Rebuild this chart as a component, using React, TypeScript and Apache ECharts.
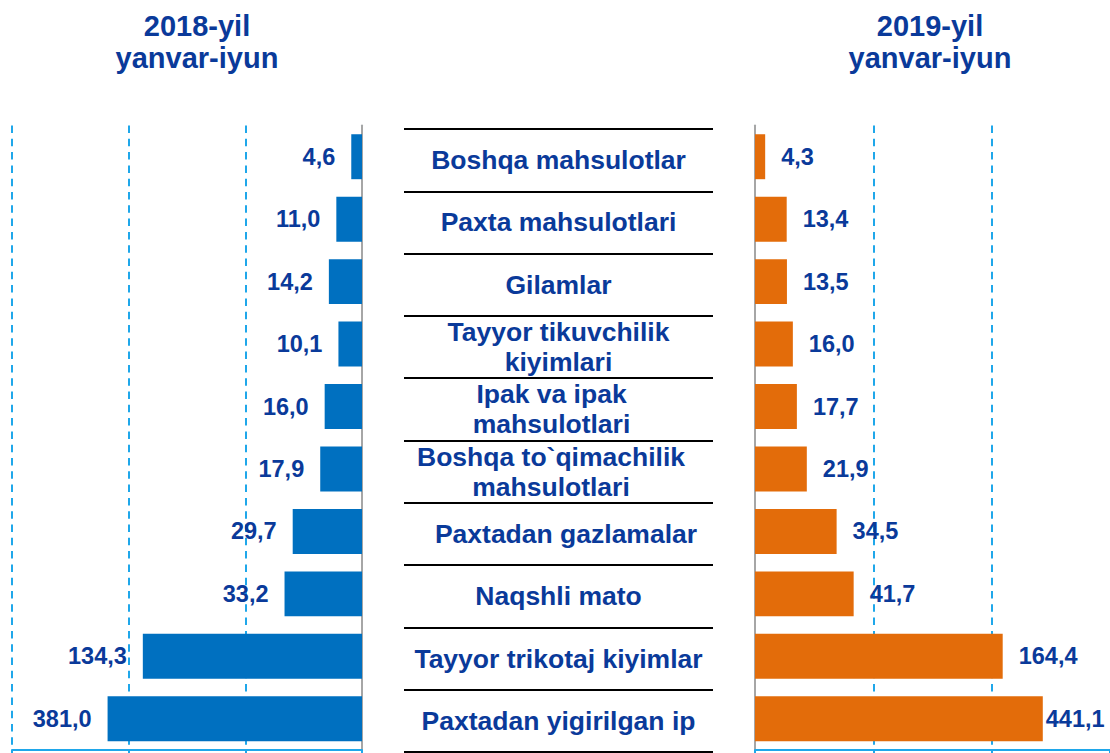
import React, { useEffect, useRef } from "react";
import * as echarts from "echarts";

const categories = [
  "Boshqa mahsulotlar",
  "Paxta mahsulotlari",
  "Gilamlar",
  "Tayyor tikuvchilik\nkiyimlari",
  "Ipak va ipak\nmahsulotlari",
  "Boshqa to`qimachilik\nmahsulotlari",
  "Paxtadan gazlamalar",
  "Naqshli mato",
  "Tayyor trikotaj kiyimlar",
  "Paxtadan yigirilgan ip",
];
const values2018 = [4.6, 11.0, 14.2, 10.1, 16.0, 17.9, 29.7, 33.2, 134.3, 381.0];
const values2019 = [4.3, 13.4, 13.5, 16.0, 17.7, 21.9, 34.5, 41.7, 164.4, 441.1];
const titles = ["2018-yil\nyanvar-iyun", "2019-yil\nyanvar-iyun"];
// gridline axis: min, max, interval
const gridMin = 0;
const gridMax = 150;
const gridInterval = 50;
// compressed (broken) ranges of the bar axes, as in the source picture
const break2018 = { start: 91.3, end: 400, gap: 18.9 };
const break2019 = { start: 100.8, end: 460, gap: 22 };
const barMax2018 = 439.8;
const barMax2019 = 487.25;

const FONT = "'Liberation Sans', Arial, sans-serif";
const TEXT = "#0a3a9a";
const GRIDBLUE = "#1fa7ea";

const fmt = (v: number) => v.toFixed(1).replace(".", ",");

// small horizontal nudges of some category labels, as in the source
const labelPadding: Record<number, number[]> = {
  4: [0, 14, 0, 0],
  5: [0, 15, 0, 0],
  6: [0, 0, 0, 15],
};

export default function App() {
  const ref = useRef<HTMLDivElement>(null);
  useEffect(() => {
    const chart = echarts.init(ref.current!, null, { renderer: "svg" });
    const gridAxis = (gridIndex: number, inverse: boolean, showMax: boolean) => ({
      type: "value",
      gridIndex,
      min: gridMin,
      max: gridMax,
      interval: gridInterval,
      inverse,
      position: "bottom",
      axisLine: { show: true, lineStyle: { color: GRIDBLUE, width: 2 } },
      axisTick: { show: true, length: 4, lineStyle: { color: GRIDBLUE, width: 2 } },
      axisLabel: { show: false },
      splitLine: {
        show: true,
        showMaxLine: showMax,
        lineStyle: { color: GRIDBLUE, width: 2, type: [7.5, 5.8] },
      },
    });
    const barAxis = (gridIndex: number, inverse: boolean, max: number, brk: any) => ({
      type: "value",
      gridIndex,
      min: 0,
      max,
      inverse,
      show: false,
      breaks: [brk],
      breakArea: { show: false },
      splitLine: { show: false },
    });
    const labelStyle = {
      show: true,
      distance: 16,
      fontSize: 23.5,
      fontWeight: "bold",
      fontFamily: FONT,
      color: TEXT,
      formatter: (p: any) => fmt(p.value),
    };
    const catLabel = {
      align: "center",
      verticalAlign: "middle",
      fontSize: 26.5,
      lineHeight: 30,
      fontWeight: "bold",
      fontFamily: FONT,
      color: TEXT,
    };
    const option: any = {
      animation: false,
      backgroundColor: "#ffffff",
      grid: [
        { left: 12, width: 350, top: 125.5, height: 624.5 },
        { left: 404, width: 309, top: 129, height: 623 },
        { left: 755, width: 355, top: 125.5, height: 624.5 },
      ],
      xAxis: [
        gridAxis(0, true, true),
        barAxis(0, true, barMax2018, break2018),
        { type: "value", gridIndex: 1, show: false },
        gridAxis(2, false, false),
        barAxis(2, false, barMax2019, break2019),
      ],
      yAxis: [
        {
          type: "category",
          gridIndex: 0,
          data: categories,
          inverse: true,
          position: "right",
          axisLine: { show: true, lineStyle: { color: "#a6a6a6", width: 2 } },
          axisTick: { show: false },
          axisLabel: { show: false },
          splitLine: { show: false },
        },
        {
          type: "category",
          gridIndex: 1,
          data: categories.map((c, i) =>
            labelPadding[i]
              ? { value: c, textStyle: { ...catLabel, padding: labelPadding[i] } }
              : c
          ),
          inverse: true,
          position: "left",
          axisLine: { show: false },
          axisTick: { show: false },
          splitLine: { show: true, lineStyle: { color: "#000000", width: 2 } },
          axisLabel: {
            ...catLabel,
            inside: true,
            margin: 154.5,
            interval: 0,
          },
        },
        {
          type: "category",
          gridIndex: 2,
          data: categories,
          inverse: true,
          position: "left",
          axisLine: { show: true, lineStyle: { color: "#a6a6a6", width: 2 } },
          axisTick: { show: false },
          axisLabel: { show: false },
          splitLine: { show: false },
        },
      ],
      graphic: titles.map((t, i) => ({
        type: "text",
        x: i === 0 ? 197 : 930,
        y: 10,
        style: {
          text: t,
          align: "center",
          verticalAlign: "top",
          fontSize: 29,
          lineHeight: 32,
          fontWeight: "bold",
          fontFamily: FONT,
          fill: TEXT,
        },
      })),
      series: [
        {
          type: "bar",
          name: "2018",
          xAxisIndex: 1,
          yAxisIndex: 0,
          data: values2018,
          barCategoryGap: "28%",
          itemStyle: { color: "#0070c0" },
          label: { ...labelStyle, position: "left" },
        },
        {
          type: "bar",
          name: "2019",
          xAxisIndex: 4,
          yAxisIndex: 2,
          data: values2019.map((v, i) =>
            i === values2019.length - 1 ? { value: v, label: { distance: 3 } } : v
          ),
          barCategoryGap: "28%",
          itemStyle: { color: "#e36c0a" },
          label: { ...labelStyle, position: "right" },
        },
      ],
    };
    chart.setOption(option);
    return () => chart.dispose();
  }, []);
  return (
    <div
      ref={ref}
      style={{ position: "absolute", left: 0, top: 0, width: 1110, height: 753 }}
    />
  );
}
